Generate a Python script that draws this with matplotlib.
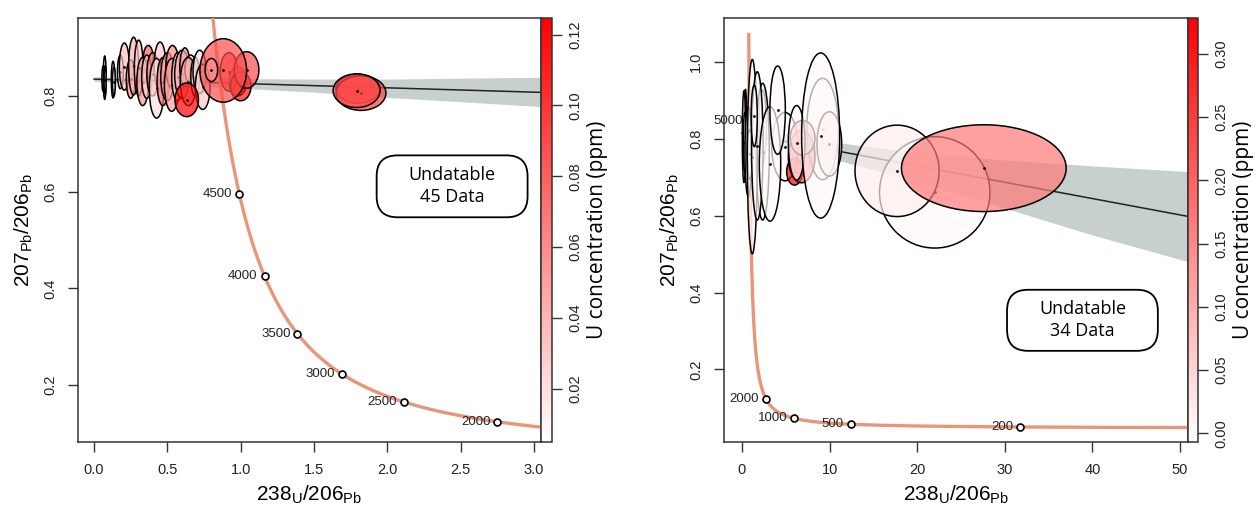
import numpy as np
import matplotlib
matplotlib.use("Agg")
import matplotlib.pyplot as plt
from matplotlib.patches import Ellipse, FancyBboxPatch
from matplotlib.colors import LinearSegmentedColormap, Normalize
from matplotlib.cm import ScalarMappable

plt.rcParams['font.family'] = ['Liberation Sans', 'DejaVu Sans']
plt.rcParams['mathtext.fontset'] = 'custom'
plt.rcParams['mathtext.rm'] = 'Open Sans'

# ---- left panel data: ellipse centre, half widths, U (ppm) ----
left_x = [0.062, 0.073, 0.076, 0.130, 0.136, 0.180, 0.207, 0.250, 0.270, 0.305,
          0.370, 0.332, 0.360, 0.400, 0.450, 0.427, 0.470, 0.500, 0.535, 0.530,
          0.570, 0.600, 0.620, 0.660, 0.643, 0.690, 0.720, 0.741, 0.632, 0.980,
          0.920, 1.000, 1.040, 0.881, 0.800, 1.800, 1.820, 1.790]
left_y = [0.836, 0.838, 0.833, 0.834, 0.830, 0.850, 0.861, 0.835, 0.862, 0.858,
          0.875, 0.830, 0.840, 0.845, 0.862, 0.816, 0.830, 0.840, 0.860, 0.823,
          0.840, 0.845, 0.860, 0.855, 0.830, 0.840, 0.850, 0.819, 0.792, 0.830,
          0.850, 0.820, 0.854, 0.853, 0.854, 0.815, 0.806, 0.811]
left_a = [0.008, 0.010, 0.007, 0.012, 0.010, 0.020, 0.034, 0.030, 0.034, 0.030,
          0.035, 0.040, 0.035, 0.040, 0.040, 0.050, 0.040, 0.045, 0.045, 0.050,
          0.040, 0.050, 0.035, 0.040, 0.055, 0.030, 0.045, 0.050, 0.080, 0.060,
          0.060, 0.070, 0.084, 0.159, 0.043, 0.150, 0.170, 0.160]
left_b = [0.026, 0.045, 0.030, 0.038, 0.030, 0.035, 0.049, 0.040, 0.060, 0.058,
          0.030, 0.050, 0.045, 0.045, 0.050, 0.062, 0.050, 0.050, 0.045, 0.055,
          0.050, 0.050, 0.040, 0.030, 0.050, 0.040, 0.045, 0.047, 0.035, 0.030,
          0.040, 0.030, 0.038, 0.066, 0.024, 0.030, 0.036, 0.035]
left_u = [0.005, 0.005, 0.006, 0.006, 0.008, 0.020, 0.035, 0.060, 0.040, 0.030,
          0.080, 0.055, 0.030, 0.060, 0.030, 0.020, 0.070, 0.045, 0.060, 0.050,
          0.025, 0.040, 0.050, 0.030, 0.045, 0.020, 0.020, 0.030, 0.124, 0.110,
          0.100, 0.115, 0.090, 0.088, 0.060, 0.085, 0.095, 0.090]

# ---- right panel data ----
right_x = [22.0, 9.20, 9.97, 4.90, 2.36, 2.36, 6.00, 6.81, 6.92, 0.40,
           0.23, 0.35, 0.72, 0.90, 1.18, 1.75, 1.40, 3.20, 4.07, 6.24,
           8.98, 17.7, 27.6]
right_y = [0.661, 0.826, 0.787, 0.780, 0.832, 0.767, 0.715, 0.754, 0.803, 0.820,
           0.806, 0.790, 0.767, 0.760, 0.754, 0.782, 0.860, 0.735, 0.875, 0.790,
           0.809, 0.717, 0.724]
right_a = [6.30, 1.80, 1.41, 1.50, 0.42, 0.76, 0.90, 1.52, 1.41, 0.15,
           0.19, 0.20, 0.38, 0.30, 0.57, 0.66, 0.35, 1.22, 0.88, 0.95,
           2.17, 4.80, 9.40]
right_b = [0.145, 0.132, 0.084, 0.089, 0.095, 0.178, 0.035, 0.068, 0.045, 0.110,
           0.120, 0.080, 0.117, 0.065, 0.253, 0.193, 0.080, 0.149, 0.115, 0.097,
           0.215, 0.119, 0.113]
right_u = [0.0, 0.0, 0.030, 0.0, 0.010, 0.0, 0.330, 0.220, 0.110, 0.0,
           0.0, 0.0, 0.0, 0.005, 0.0, 0.005, 0.0, 0.0, 0.0, 0.005,
           0.0, 0.015, 0.170]

# regression line and its envelope
left_band_x = [0.0, 0.5, 1.0, 1.5, 2.0, 2.5, 3.1]
left_band_hi = [0.840, 0.838, 0.836, 0.835, 0.835, 0.837, 0.839]
left_band_lo = [0.830, 0.824, 0.816, 0.808, 0.797, 0.788, 0.777]
left_line_x = [0.0, 3.1]
left_line_y = [0.835, 0.807]

right_band_x = [0.0, 5, 10, 20, 30, 40, 51]
right_band_hi = [0.830, 0.812, 0.793, 0.765, 0.745, 0.730, 0.715]
right_band_lo = [0.800, 0.778, 0.750, 0.690, 0.620, 0.550, 0.480]
right_line_x = [0.0, 51]
right_line_y = [0.815, 0.598]

# concordia ages (Ma)
left_ages = [4500, 4000, 3500, 3000, 2500, 2000]
right_ages = [5000, 2000, 1000, 500, 200]


def tera_wasserburg(t):
    e8 = np.exp(1.55125e-4 * t) - 1
    e5 = np.exp(9.8485e-4 * t) - 1
    return 1 / e8, e5 / e8 / 137.818


cmap = LinearSegmentedColormap.from_list('wr', ['white', 'red'])
W, H = 1256, 509
fig = plt.figure(figsize=(W / 100, H / 100), dpi=100)


def box(x0, y0, x1, y1):
    return [x0 / W, 1 - y1 / H, (x1 - x0) / W, (y1 - y0) / H]


def panel(ax, cax, xs, ys, a_, b_, us, vmin, vmax, bx, bhi, blo, lx, ly,
          tmax, tmin, ages, xlim, ylim, xticks, yticks, cticks, nlabel, boxpos):
    norm = Normalize(vmin, vmax)
    ax.fill_between(bx, blo, bhi, color='#c8cfcf', lw=0, zorder=1)
    ax.plot(lx, ly, color='#222222', lw=1.1, zorder=2)
    t = np.linspace(tmin, tmax, 600)
    cx, cy = tera_wasserburg(t)
    ax.plot(cx, cy, color='#ea9578', lw=2.4, zorder=3, solid_capstyle='butt')
    mx, my = tera_wasserburg(np.array(ages, float))
    ax.plot(mx, my, 'o', ms=5, mfc='white', mec='black', mew=1.2, zorder=4)
    for px, py, age in zip(mx, my, ages):
        ax.annotate(str(age), (px, py), xytext=(-5, 0), textcoords='offset points',
                    ha='right', va='center', fontsize=9.5, color='#222222', zorder=4)
    z = 5
    for x, y, a, b, u in zip(xs, ys, a_, b_, us):
        r, g, bb, _ = cmap(norm(u))
        ax.add_patch(Ellipse((x, y), 2 * a, 2 * b, facecolor=(r, g, bb, 0.7),
                             edgecolor='black', lw=1.1, zorder=z))
        ax.plot([x], [y], 'o', ms=2.0, color='black', mew=0, zorder=z + 0.5)
        z += 1
    ax.set_xlim(xlim)
    ax.set_ylim(ylim)
    ax.set_xticks(xticks)
    ax.set_yticks(yticks)
    ax.tick_params(direction='out', length=7, width=1, color='#333333',
                   labelsize=10.5, labelcolor='#222222')
    ax.tick_params(axis='x', pad=8)
    ax.tick_params(axis='y', pad=8)
    for lab in ax.get_yticklabels():
        lab.set_rotation(90)
        lab.set_va('center')
    for s in ax.spines.values():
        s.set_color('#333333')
        s.set_linewidth(1.1)
    ax.set_xlabel(r'$\mathregular{238_{U}/206_{Pb}}$', fontsize=15, labelpad=5)
    ax.set_ylabel(r'$\mathregular{207_{Pb}/206_{Pb}}$', fontsize=15, labelpad=6)

    bx0, by0, bw, bh = boxpos
    aspect = (ax.get_position().width * W) / (ax.get_position().height * H)
    ax.add_patch(FancyBboxPatch((bx0, by0), bw, bh, transform=ax.transAxes,
                                boxstyle='round,pad=0,rounding_size=0.045',
                                mutation_aspect=aspect, facecolor='white',
                                edgecolor='black', lw=1.3, zorder=60))
    ax.text(bx0 + bw / 2, by0 + bh / 2, 'Undatable\n' + nlabel,
            transform=ax.transAxes, ha='center', va='center', fontsize=13,
            family='Open Sans', linespacing=1.3, zorder=61)

    cb = fig.colorbar(ScalarMappable(norm=norm, cmap=cmap), cax=cax, ticks=cticks)
    cb.outline.set_linewidth(1.1)
    cb.outline.set_edgecolor('#333333')
    cax.tick_params(direction='out', length=7, width=1, color='#333333',
                    labelsize=10.5, labelcolor='#222222', pad=5)
    for lab in cax.get_yticklabels():
        lab.set_rotation(90)
        lab.set_va('center')
    cb.set_label('U concentration (ppm)', fontsize=15, family='Open Sans', labelpad=3)


axL = fig.add_axes(box(78, 18, 541, 442))
caxL = fig.add_axes(box(541, 18, 552, 442))
axR = fig.add_axes(box(724, 18, 1188, 442))
caxR = fig.add_axes(box(1188, 18, 1198, 442))

panel(axL, caxL, left_x, left_y, left_a, left_b, left_u, 0.0049, 0.1247,
      left_band_x, left_band_hi, left_band_lo, left_line_x, left_line_y,
      5300, 1800, left_ages, (-0.109, 3.047), (0.081, 0.962),
      [0, 0.5, 1.0, 1.5, 2.0, 2.5, 3.0], [0.2, 0.4, 0.6, 0.8],
      [0.02, 0.04, 0.06, 0.08, 0.10, 0.12], '45 Data', (0.645, 0.53, 0.326, 0.146))
axL.set_xticklabels(['0.0', '0.5', '1.0', '1.5', '2.0', '2.5', '3.0'])

panel(axR, caxR, right_x, right_y, right_a, right_b, right_u, -0.007, 0.3285,
      right_band_x, right_band_hi, right_band_lo, right_line_x, right_line_y,
      5340, 100, right_ages, (-2.05, 50.9), (0.011, 1.115),
      [0, 10, 20, 30, 40, 50], [0.2, 0.4, 0.6, 0.8, 1.0],
      [0.0, 0.05, 0.10, 0.15, 0.20, 0.25, 0.30], '34 Data', (0.61, 0.215, 0.325, 0.144))
caxR.set_yticklabels(['0.00', '0.05', '0.10', '0.15', '0.20', '0.25', '0.30'])

fig.savefig('out.png', dpi=100)
